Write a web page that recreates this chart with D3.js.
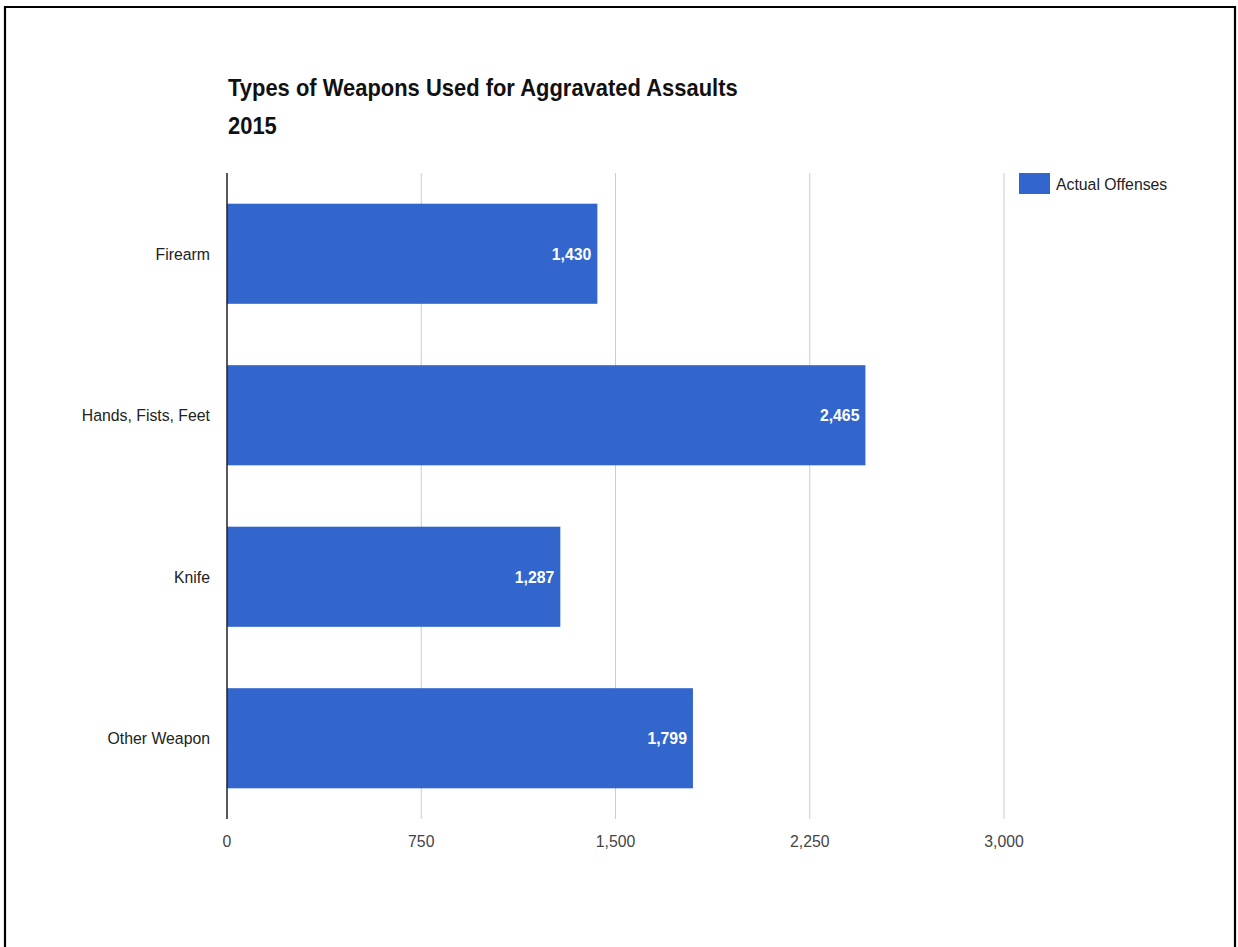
<!DOCTYPE html>
<html><head><meta charset="utf-8">
<script src="https://cdn.jsdelivr.net/npm/d3@7"></script>
<style>
body{margin:0;background:#fff;}
text{font-family:"Liberation Sans",Arial,sans-serif;}
</style></head>
<body>
<svg id="chart" width="1238" height="947"></svg>
<script>
const titleLines = ["Types of Weapons Used for Aggravated Assaults", "2015"];
const categories = ["Firearm", "Hands, Fists, Feet", "Knife", "Other Weapon"];
const values = [1430, 2465, 1287, 1799];
const seriesName = "Actual Offenses";
const xTicks = [0, 750, 1500, 2250, 3000];

const svg = d3.select("#chart");
// frame
svg.append("path").attr("d","M5,960 V7 H1235 V960").attr("fill","none").attr("stroke","#000").attr("stroke-width",2.2);

const pLeft = 227, pRight = 1004, pTop = 173, pBottom = 819;
const x = d3.scaleLinear().domain([0, 3000]).range([pLeft, pRight]);
const y = d3.scaleBand().domain(categories).range([pTop, pBottom]).paddingInner(0.38).paddingOuter(0.19);
const fmt = d3.format(",");
const SX = 0.93;

// helper: horizontally condensed text
function label(g, tx, ty, str, opts) {
  const t = g.append("g").attr("transform", `translate(${tx},${ty}) scale(${opts.sx || SX},1)`)
    .append("text").attr("x",0).attr("y",0)
    .attr("font-size", opts.size).attr("fill", opts.fill)
    .attr("text-anchor", opts.anchor || "start")
    .attr("dy", opts.dy || "0.35em")
    .text(str);
  if (opts.bold) t.attr("font-weight","bold");
  return t;
}

// gridlines
svg.append("g").selectAll("line").data(xTicks.slice(1)).join("line")
  .attr("x1", d=>x(d)).attr("x2", d=>x(d)).attr("y1", pTop).attr("y2", pBottom)
  .attr("stroke","#cccccc").attr("stroke-width",1);

// bars
svg.append("g").selectAll("rect").data(values).join("rect")
  .attr("x", x(0)).attr("y", (d,i)=>y(categories[i]))
  .attr("width", d=>x(d)-x(0)).attr("height", y.bandwidth())
  .attr("fill","#3266cc");

// value labels
const vg = svg.append("g");
values.forEach((v,i)=>label(vg, x(v)-6, y(categories[i])+y.bandwidth()/2, fmt(v),
  {size:17, bold:true, fill:"#fff", anchor:"end"}));

// axis line
svg.append("line").attr("x1",pLeft).attr("x2",pLeft).attr("y1",pTop).attr("y2",pBottom)
  .attr("stroke","#222").attr("stroke-width",1.5);

// y labels
const yg = svg.append("g");
categories.forEach(c=>label(yg, pLeft-17, y(c)+y.bandwidth()/2, c, {size:17, fill:"#222", anchor:"end"}));

// x tick labels
const xg = svg.append("g");
xTicks.forEach(t=>label(xg, x(t), 841, fmt(t), {size:17, fill:"#444", anchor:"middle"}));

// title
const tg = svg.append("g");
titleLines.forEach((s,i)=>label(tg, 228, 96+i*38, s, {size:24.5, bold:true, fill:"#111", dy:"0", sx:0.896}));

// legend
svg.append("rect").attr("x",1019).attr("y",173).attr("width",31).attr("height",21).attr("fill","#3266cc");
label(svg, 1056, 184, seriesName, {size:17, fill:"#222"});
</script>
</body></html>
